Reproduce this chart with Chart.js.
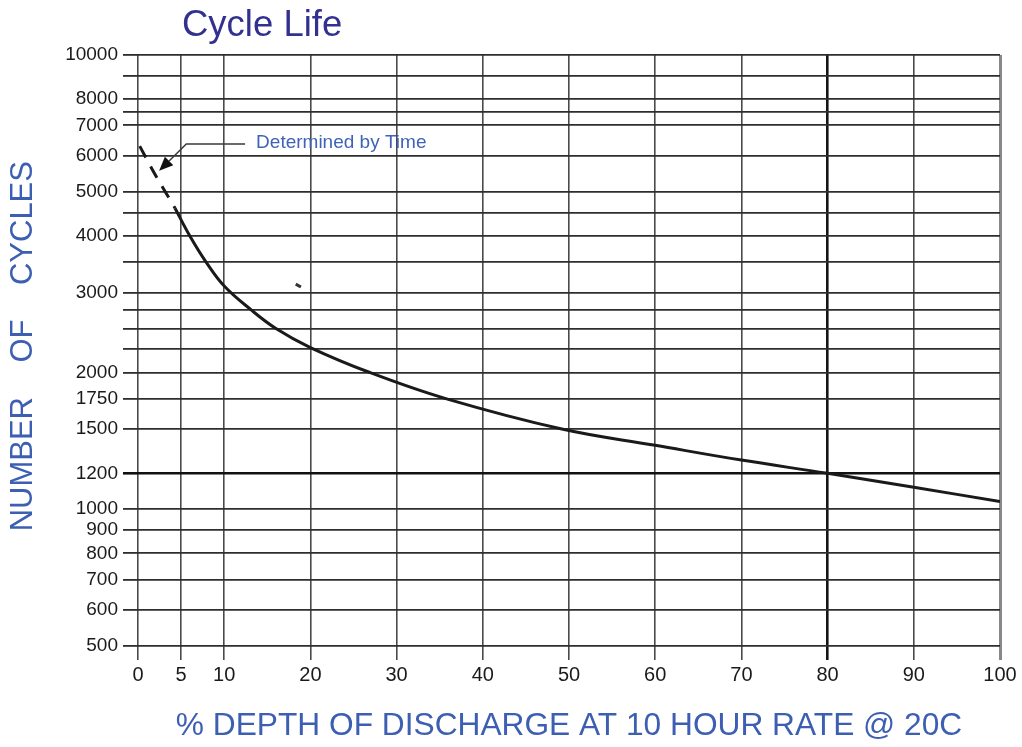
<!DOCTYPE html>
<html>
<head>
<meta charset="utf-8">
<script src="https://cdn.jsdelivr.net/npm/chart.js@4/dist/chart.umd.min.js"></script>
<style>
html,body{margin:0;padding:0;background:#fff;}
canvas{display:block;}
</style>
</head>
<body>
<canvas id="c" width="1022" height="747"></canvas>
<script>
// ---- data ----
const xTicks = [0, 5, 10, 20, 30, 40, 50, 60, 70, 80, 90, 100];
const yTicks = [500, 600, 700, 800, 900, 1000, 1200, 1500, 1750, 2000, 2250, 2500, 2750, 3000, 3500, 4000, 4500, 5000, 6000, 7000, 7500, 8000, 9000, 10000];
const yLabels = [500, 600, 700, 800, 900, 1000, 1200, 1500, 1750, 2000, 3000, 4000, 5000, 6000, 7000, 8000, 10000];

const dashedDoD = [0.2, 2.0, 4.3];
const dashedCycles = [6300, 5450, 4600];

const solidDoD = [4.3, 6, 7.9, 10, 13.1, 16.0, 20, 26.9, 35.8, 49.3, 60, 70, 80, 90, 100];
const solidCycles = [4600, 4000, 3500, 3100, 2750, 2500, 2270, 2000, 1750, 1500, 1383, 1283, 1200, 1118, 1040];

const strayDoD = [18.3, 18.9];
const strayCycles = [3131, 3085];

const titleText = 'Cycle Life';
const xTitle = '% DEPTH OF DISCHARGE AT 10 HOUR RATE @ 20C';
const yTitle = ' NUMBER    OF    CYCLES';
const noteText = 'Determined by Time';
const noteTextAt = [13.7, 6400];
const noteElbowAt = [5.6, 6300];
const noteTipAt = [2.45, 5560];

const pts = (xs, ys) => xs.map((x, i) => ({x: x, y: ys[i]}));

const decor = {
  id: 'decor',
  afterDraw(chart) {
    const ctx = chart.ctx;
    const xs = chart.scales.x, ys = chart.scales.y;
    ctx.save();
    // title
    ctx.fillStyle = '#33318f';
    ctx.font = '36.5px "Liberation Sans", Arial, sans-serif';
    ctx.textBaseline = 'alphabetic';
    ctx.textAlign = 'left';
    ctx.fillText(titleText, 182, 36);
    // annotation
    const tx = xs.getPixelForValue(noteTextAt[0]), ty = ys.getPixelForValue(noteTextAt[1]);
    const ex = xs.getPixelForValue(noteElbowAt[0]), ey = ty + 1;
    const px = xs.getPixelForValue(noteTipAt[0]), py = ys.getPixelForValue(noteTipAt[1]);
    ctx.strokeStyle = '#3a3a3a';
    ctx.lineWidth = 1.5;
    ctx.beginPath();
    ctx.moveTo(tx - 11, ey);
    ctx.lineTo(ex, ey);
    const ang = Math.atan2(py - ey, px - ex);
    const L = 14, W = 6;
    const bx = px - L * Math.cos(ang), by = py - L * Math.sin(ang);
    ctx.lineTo(bx, by);
    ctx.stroke();
    ctx.fillStyle = '#111';
    ctx.beginPath();
    ctx.moveTo(px, py);
    ctx.lineTo(bx + W * Math.sin(ang), by - W * Math.cos(ang));
    ctx.lineTo(bx - W * Math.sin(ang), by + W * Math.cos(ang));
    ctx.closePath();
    ctx.fill();
    ctx.fillStyle = '#3f63b8';
    ctx.font = '19px "Liberation Sans", Arial, sans-serif';
    ctx.textBaseline = 'middle';
    ctx.fillText(noteText, tx, ty);
    ctx.restore();
  }
};

new Chart(document.getElementById('c'), {
  type: 'line',
  data: {
    datasets: [
      {data: pts(solidDoD, solidCycles), borderColor: '#1a1a1a', borderWidth: 3, pointRadius: 0, tension: 0.4, fill: false},
      {data: pts(dashedDoD, dashedCycles), borderColor: '#1a1a1a', borderWidth: 3, borderDash: [13, 10], pointRadius: 0, tension: 0.3, fill: false},
      {data: pts(strayDoD, strayCycles), borderColor: '#333', borderWidth: 3, pointRadius: 0, fill: false}
    ]
  },
  options: {
    responsive: false,
    animation: false,
    layout: {padding: {top: 55, right: 22, bottom: 0, left: 0}},
    plugins: {legend: {display: false}, tooltip: {enabled: false}, title: {display: false}},
    scales: {
      x: {
        type: 'linear', min: 0, max: 100,
        afterBuildTicks: s => { s.ticks = xTicks.map(v => ({value: v})); },
        afterFit: s => { s.height = 101; },
        border: {display: false},
        grid: {
          color: c => c.tick && c.tick.value === 80 ? '#151515' : (c.tick && c.tick.value === 100 ? '#888' : '#4a4a4a'),
          lineWidth: c => c.tick && c.tick.value === 80 ? 2.6 : (c.tick && c.tick.value === 100 ? 3 : 1.6),
          tickLength: 14
        },
        ticks: {autoSkip: false, maxRotation: 0, padding: 3, color: '#1a1a1a',
          font: {family: '"Liberation Sans", Arial, sans-serif', size: 20},
          callback: v => String(v)},
        title: {display: true, text: xTitle, color: '#3d5fb3',
          font: {family: '"Liberation Sans", Arial, sans-serif', size: 31.7},
          padding: {top: 0, bottom: 2}}
      },
      y: {
        type: 'logarithmic', min: 500, max: 10000,
        afterBuildTicks: s => { s.ticks = yTicks.map(v => ({value: v})); },
        afterFit: s => { s.width = 138; },
        border: {display: false},
        grid: {
          color: c => c.tick && c.tick.value === 1200 ? '#111' : '#2e2e2e',
          lineWidth: c => c.tick && c.tick.value === 1200 ? 2.6 : 1.8,
          tickLength: 15
        },
        ticks: {autoSkip: false, padding: 5, color: '#1a1a1a',
          font: {family: '"Liberation Sans", Arial, sans-serif', size: 19},
          callback: v => yLabels.includes(v) ? String(v) : ''},
        title: {display: true, text: yTitle, color: '#3d5fb3',
          font: {family: '"Liberation Sans", Arial, sans-serif', size: 31},
          padding: {top: 5, bottom: 0}}
      }
    }
  },
  plugins: [decor]
});
</script>
</body>
</html>
